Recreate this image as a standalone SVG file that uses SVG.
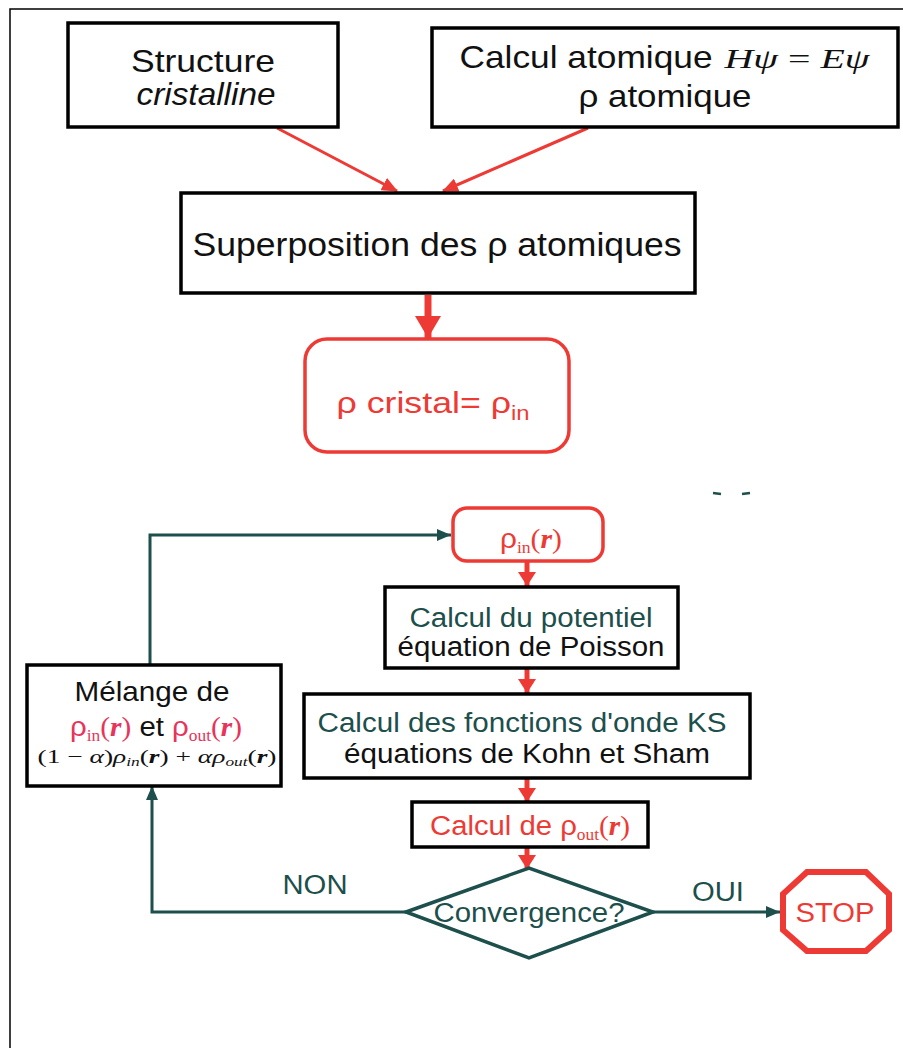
<svg xmlns="http://www.w3.org/2000/svg" width="903" height="1048" viewBox="0 0 903 1048">
<style>
.box{fill:#fff;stroke:#000;stroke-width:3.5}
.rbox{fill:#fff;stroke:#ee3a35;stroke-width:3.5}
.sans{font-family:"Liberation Sans",Arial,sans-serif}
.serif{font-family:"Liberation Serif","Times New Roman",serif}
.blk{fill:#111}
.red{fill:#ee3a35}
.pink{fill:#e8345a}
.teal{fill:#1d4f4c}
.rline{stroke:#ee3a35;fill:none}
.tline{stroke:#1d4f4c;fill:none;stroke-width:3}
</style>
<defs>
<marker id="ahRed" markerUnits="userSpaceOnUse" markerWidth="16" markerHeight="14" refX="15" refY="7" orient="auto"><path d="M0,0 L16,7 L0,14 z" fill="#ee3a35"/></marker>
<marker id="ahRedBig" markerUnits="userSpaceOnUse" markerWidth="22" markerHeight="26" refX="22" refY="13" orient="auto"><path d="M0,0 L22,13 L0,26 z" fill="#ee3a35"/></marker>
<marker id="ahRedMid" markerUnits="userSpaceOnUse" markerWidth="14" markerHeight="18" refX="14" refY="9" orient="auto"><path d="M0,0 L14,9 L0,18 z" fill="#ee3a35"/></marker>
<marker id="ahTeal" markerUnits="userSpaceOnUse" markerWidth="14" markerHeight="12" refX="14" refY="6" orient="auto"><path d="M0,0 L14,6 L0,12 z" fill="#1d4f4c"/></marker>
</defs>
<rect width="903" height="1048" fill="#fff"/>
<path d="M10,1048 V9 H903" fill="none" stroke="#000" stroke-width="1.5"/>

<g id="connectors">
<line class="rline" x1="277" y1="128" x2="397" y2="191" stroke-width="3" marker-end="url(#ahRed)"/>
<line class="rline" x1="588" y1="128" x2="443" y2="191" stroke-width="3" marker-end="url(#ahRed)"/>
<line class="rline" x1="428" y1="295" x2="428" y2="338" stroke-width="7" marker-end="url(#ahRedBig)"/>
<line class="rline" x1="527" y1="562" x2="527" y2="586" stroke-width="5" marker-end="url(#ahRedMid)"/>
<line class="rline" x1="527" y1="669" x2="527" y2="693" stroke-width="5" marker-end="url(#ahRedMid)"/>
<line class="rline" x1="527" y1="779" x2="527" y2="802" stroke-width="5" marker-end="url(#ahRedMid)"/>
<line class="rline" x1="527" y1="848" x2="527" y2="869" stroke-width="5" marker-end="url(#ahRedMid)"/>
<polyline class="tline" points="150,664 150,535 451,535" marker-end="url(#ahTeal)"/>
<polyline class="tline" points="406,912 152,912 152,786" marker-end="url(#ahTeal)"/>
<line class="tline" x1="653" y1="912" x2="780" y2="912" marker-end="url(#ahTeal)"/>
<text class="sans teal" x="315" y="894" font-size="27" text-anchor="middle" textLength="65" lengthAdjust="spacingAndGlyphs">NON</text>
<text class="sans teal" x="718" y="901" font-size="27" text-anchor="middle" textLength="52" lengthAdjust="spacingAndGlyphs">OUI</text>
<line x1="713" y1="493" x2="721" y2="494" stroke="#1d4f4c" stroke-width="2.5"/>
<line x1="742" y1="494" x2="750" y2="493" stroke="#1d4f4c" stroke-width="2.5"/>
</g>

<g id="structure">
<rect class="box" x="68" y="23" width="270" height="104"/>
<text class="sans blk" x="203" y="72" font-size="32" text-anchor="middle" textLength="144" lengthAdjust="spacingAndGlyphs">Structure</text>
<text class="sans blk" x="206" y="105" font-size="32" font-style="italic" text-anchor="middle" textLength="139" lengthAdjust="spacingAndGlyphs">cristalline</text>
</g>

<g id="calcul-atomique">
<rect class="box" x="432" y="28" width="466" height="99"/>
<text class="sans blk" x="586" y="68" font-size="32" text-anchor="middle" textLength="253" lengthAdjust="spacingAndGlyphs">Calcul atomique</text>
<text class="serif blk" x="797" y="68" font-size="28" font-style="italic" text-anchor="middle" textLength="145" lengthAdjust="spacingAndGlyphs">Hψ <tspan font-style="normal">=</tspan> Eψ</text>
<text class="sans blk" x="665" y="107" font-size="32" text-anchor="middle" textLength="173" lengthAdjust="spacingAndGlyphs">ρ atomique</text>
</g>

<g id="superposition">
<rect class="box" x="181" y="193" width="514" height="100" stroke-width="4"/>
<text class="sans blk" x="437" y="256" font-size="33" text-anchor="middle" textLength="489" lengthAdjust="spacingAndGlyphs">Superposition des ρ atomiques</text>
</g>

<g id="rho-cristal">
<rect class="rbox" x="305" y="339" width="264" height="113" rx="22"/>
<text class="sans red" x="433" y="413" font-size="30" text-anchor="middle" textLength="193" lengthAdjust="spacingAndGlyphs">ρ cristal= ρ<tspan font-size="20" dy="7">in</tspan></text>
</g>

<g id="rho-in">
<rect class="rbox" x="453" y="508" width="150" height="53" rx="14"/>
<text class="serif red" x="531" y="548" font-size="27" text-anchor="middle" textLength="62" lengthAdjust="spacingAndGlyphs"><tspan class="sans">ρ</tspan><tspan font-size="16" dy="5">in</tspan><tspan dy="-5">(</tspan><tspan font-weight="bold" font-style="italic">r</tspan>)</text>
</g>

<g id="potentiel">
<rect class="box" x="385" y="587" width="293" height="81" stroke-width="3"/>
<text class="sans teal" x="531" y="627" font-size="27" text-anchor="middle" textLength="243" lengthAdjust="spacingAndGlyphs">Calcul du potentiel</text>
<text class="sans blk" x="531" y="656" font-size="27" text-anchor="middle" textLength="267" lengthAdjust="spacingAndGlyphs">équation de Poisson</text>
</g>

<g id="fonctions-onde">
<rect class="box" x="304" y="694" width="446" height="84" stroke-width="3"/>
<text class="sans teal" x="522" y="732" font-size="27" text-anchor="middle" textLength="409" lengthAdjust="spacingAndGlyphs">Calcul des fonctions d'onde KS</text>
<text class="sans blk" x="527" y="763" font-size="27" text-anchor="middle" textLength="366" lengthAdjust="spacingAndGlyphs">équations de Kohn et Sham</text>
</g>

<g id="rho-out">
<rect class="box" x="412" y="802" width="236" height="45" stroke-width="3"/>
<text class="sans red" x="430" y="835" font-size="27" textLength="200" lengthAdjust="spacingAndGlyphs">Calcul de ρ<tspan class="serif" font-size="16" dy="5">out</tspan><tspan class="serif" dy="-5">(</tspan><tspan class="serif" font-weight="bold" font-style="italic">r</tspan><tspan class="serif">)</tspan></text>
</g>

<g id="convergence">
<polygon points="406,912 529,868 653,912 529,958" fill="#fff" stroke="#1d4f4c" stroke-width="3.5"/>
<text class="sans teal" x="529" y="922" font-size="27" text-anchor="middle" textLength="191" lengthAdjust="spacingAndGlyphs">Convergence?</text>
</g>

<g id="stop">
<polygon points="807,872 866,872 889,894 889,930 866,951 807,951 783,930 783,894" fill="#fff" stroke="#ee3a35" stroke-width="6"/>
<text class="sans red" x="835" y="922" font-size="27" text-anchor="middle" textLength="79" lengthAdjust="spacingAndGlyphs">STOP</text>
</g>

<g id="melange">
<rect class="box" x="27" y="665" width="254" height="121" stroke-width="3"/>
<text class="sans blk" x="152" y="701" font-size="28" text-anchor="middle" textLength="155" lengthAdjust="spacingAndGlyphs">Mélange de</text>
<text class="serif" x="156" y="736" font-size="27" text-anchor="middle" textLength="172" lengthAdjust="spacingAndGlyphs"><tspan class="sans pink">ρ</tspan><tspan class="pink" font-size="16" dy="5">in</tspan><tspan class="pink" dy="-5">(</tspan><tspan class="pink" font-weight="bold" font-style="italic">r</tspan><tspan class="pink">)</tspan><tspan class="sans blk"> et </tspan><tspan class="sans pink">ρ</tspan><tspan class="pink" font-size="16" dy="5">out</tspan><tspan class="pink" dy="-5">(</tspan><tspan class="pink" font-weight="bold" font-style="italic">r</tspan><tspan class="pink">)</tspan></text>
<text class="serif blk" x="157" y="763" font-size="19" text-anchor="middle" textLength="239" lengthAdjust="spacingAndGlyphs">(1 − <tspan font-style="italic">α</tspan>)<tspan font-style="italic">ρ</tspan><tspan font-style="italic" font-size="12" dy="3">in</tspan><tspan dy="-3">(</tspan><tspan font-weight="bold" font-style="italic">r</tspan>) + <tspan font-style="italic">αρ</tspan><tspan font-style="italic" font-size="12" dy="3">out</tspan><tspan dy="-3">(</tspan><tspan font-weight="bold" font-style="italic">r</tspan>)</text>
</g>
</svg>
